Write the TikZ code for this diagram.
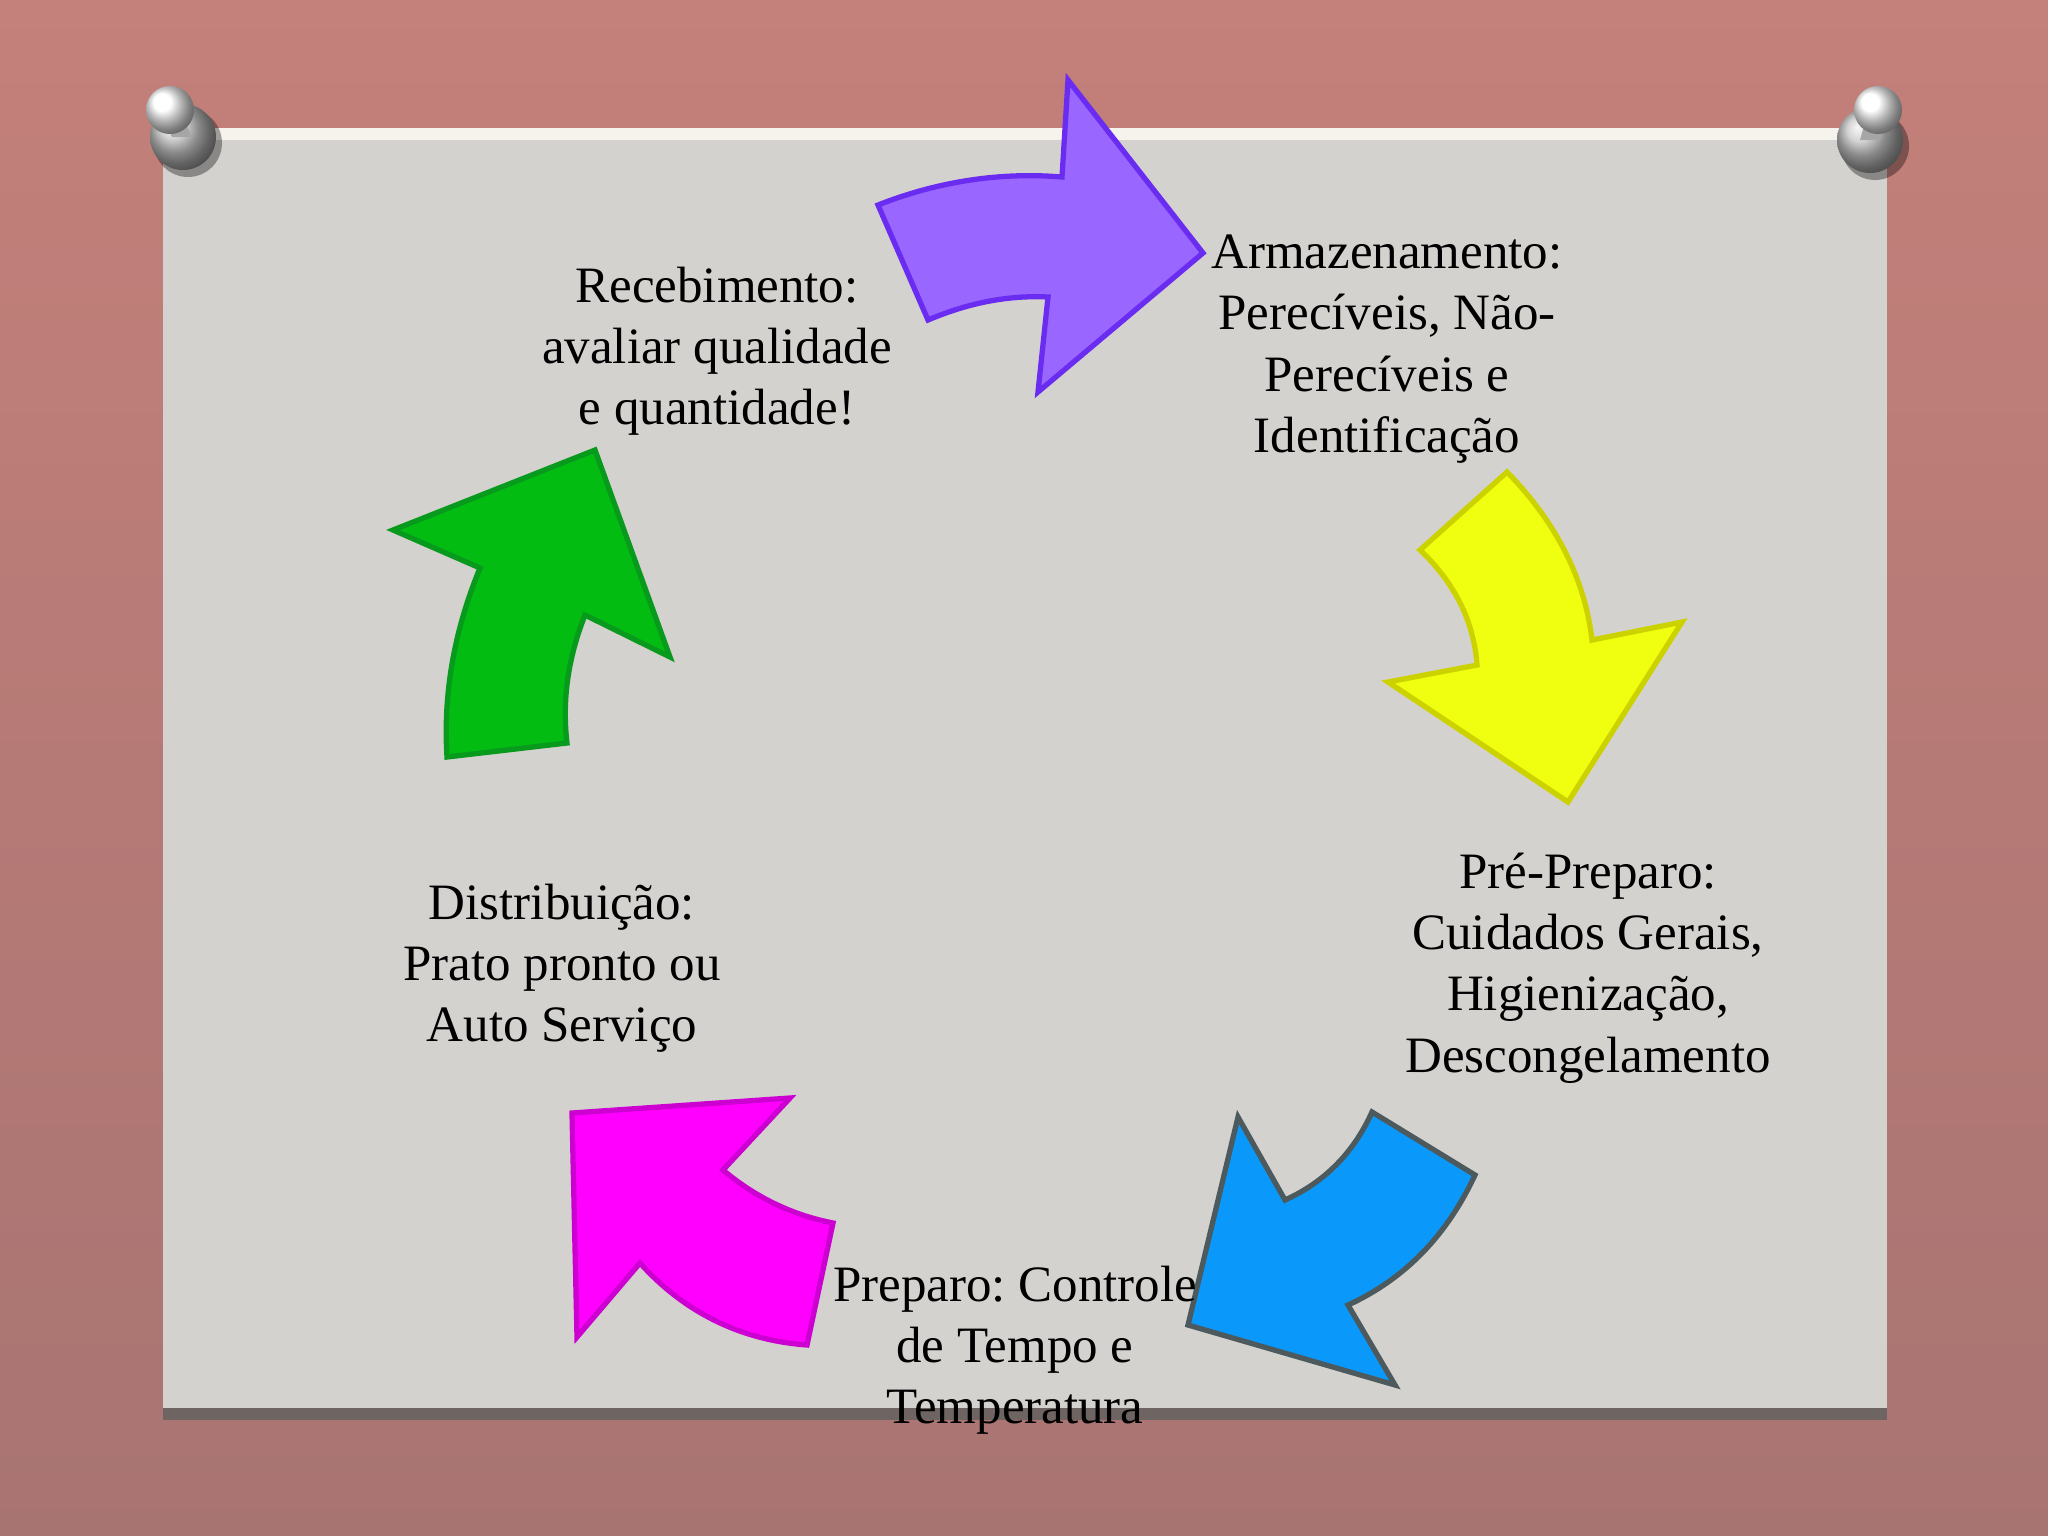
\documentclass[tikz,border=0pt]{standalone}
\usepackage{fontspec}
\setmainfont{Liberation Serif}
\frenchspacing
\definecolor{fundoA}{HTML}{C4807A}
\definecolor{fundoB}{HTML}{A87472}
\definecolor{papel}{HTML}{D4D2CE}
\definecolor{borda}{HTML}{F6F3EC}
\definecolor{sombra}{HTML}{6E6461}
\definecolor{roxo}{HTML}{9966FF}
\definecolor{roxoB}{HTML}{6A2CF0}
\definecolor{amarelo}{HTML}{F0FF10}
\definecolor{amareloB}{HTML}{CCD200}
\definecolor{azul}{HTML}{0A99FA}
\definecolor{azulB}{HTML}{4C5A5E}
\definecolor{magenta}{HTML}{FF00FF}
\definecolor{magentaB}{HTML}{CC00D0}
\definecolor{verde}{HTML}{02BC12}
\definecolor{verdeB}{HTML}{079A1C}
\tikzset{
  seta/.style={line width=1.5pt, line join=miter},
  texto/.style={align=center, font=\fontsize{14.5}{17.4}\selectfont},
}
\begin{document}
\begin{tikzpicture}[x=0.01cm, y=-0.01cm]
      \useasboundingbox (0,0) rectangle (2048,1536);
      % Fundo
      \shade[top color=fundoA, bottom color=fundoB] (0,0) rectangle (2048,1536);

      % Papel
      \fill[sombra] (163,1400) rectangle (1887,1420);
      \fill[papel] (163,128) rectangle (1887,1408);
      \fill[borda] (163,128) rectangle (1887,140);

      % Alfinetes
      \fill[black, opacity=.35] (188,143) circle (34);
      \shade[ball color=gray!45] (183,137) circle (33);
      \fill[gray!70] (160,112) -- (180,112) -- (192,137) -- (172,137) -- cycle;
      \shade[ball color=white] (170,110) circle (24);

      \fill[black, opacity=.35] (1875,146) circle (34);
      \shade[ball color=gray!45] (1870,140) circle (33);
      \fill[gray!70] (1868,112) -- (1888,112) -- (1880,140) -- (1860,140) -- cycle;
      \shade[ball color=white] (1878,110) circle (24);

      % Setas
      \filldraw[seta, fill=roxo, draw=roxoB] (878,205) -- (928,320)
        .. controls (968,303) and (1008,295) .. (1048,297) -- (1038,392) -- (1203,253)
        -- (1068,80) -- (1062,177) .. controls (1001,172) and (939,181) .. (878,205) -- cycle;

      \filldraw[seta, fill=amarelo, draw=amareloB] (1507,472) -- (1420,550)
        .. controls (1455,583) and (1474,622) .. (1477,665) -- (1388,682) -- (1568,802)
        -- (1682,622) -- (1592,640) .. controls (1585,580) and (1557,523) .. (1507,472) -- cycle;

      \filldraw[seta, fill=azul, draw=azulB] (1372,1112) -- (1475,1175)
        .. controls (1448,1233) and (1407,1278) .. (1348,1305) -- (1395,1385) -- (1188,1325)
        -- (1238,1117) -- (1285,1200) .. controls (1325,1182) and (1354,1152) .. (1372,1112) -- cycle;

      \filldraw[seta, fill=magenta, draw=magentaB] (833,1223) -- (807,1345)
        .. controls (740,1340) and (684,1312) .. (640,1263) -- (577,1337) -- (572,1113)
        -- (790,1098) -- (723,1170) .. controls (755,1197) and (792,1215) .. (833,1223) -- cycle;

      \filldraw[seta, fill=verde, draw=verdeB] (567,743) -- (447,757)
        .. controls (443,694) and (454,631) .. (480,568) -- (393,530) -- (595,450)
        -- (670,657) -- (585,615) .. controls (568,658) and (562,700) .. (567,743) -- cycle;

      % Etapas
      \node[texto] (receb) at (717,351) {Recebimento:\\avaliar qualidade\\e quantidade!};
      \node[texto] (armaz) at (1387,349) {Armazenamento:\\Perecíveis, Não-\\Perecíveis e\\Identificação};
      \node[texto] (prepre) at (1588,968) {Pré-Preparo:\\Cuidados Gerais,\\Higienização,\\Descongelamento};
      \node[texto] (preparo) at (1015,1350) {Preparo: Controle\\de Tempo e\\Temperatura};
      \node[texto] (distrib) at (562,968) {Distribuição:\\Prato pronto ou\\Auto Serviço};

    \end{tikzpicture}
\end{document}
